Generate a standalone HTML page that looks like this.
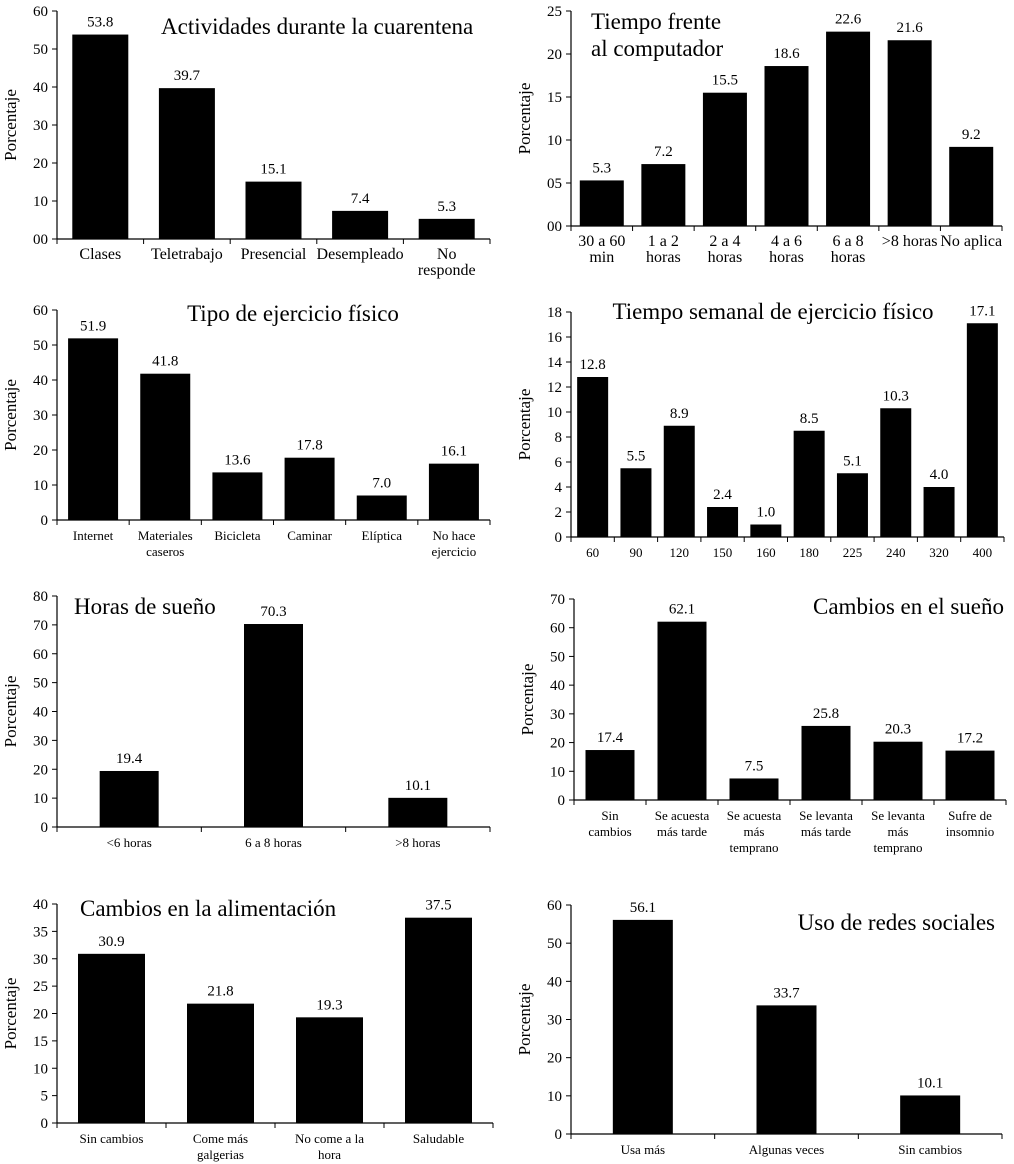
<!DOCTYPE html>
<html><head><meta charset="utf-8">
<style>
body{margin:0;background:#fff;}
svg{display:block;font-family:"Liberation Serif",serif;}
</style></head>
<body>
<svg id="c" width="1014" height="1164" viewBox="0 0 1014 1164"></svg>
<script>
// Panel 1
const p1Cats=["Clases","Teletrabajo","Presencial","Desempleado","No\nresponde"];
const p1Vals=[53.8,39.7,15.1,7.4,5.3];
const p1Ticks=["00","10","20","30","40","50","60"];
// Panel 2
const p2Cats=["30 a 60\nmin","1 a 2\nhoras","2 a 4\nhoras","4 a 6\nhoras","6 a 8\nhoras",">8 horas","No aplica"];
const p2Vals=[5.3,7.2,15.5,18.6,22.6,21.6,9.2];
const p2Ticks=["00","05","10","15","20","25"];
// Panel 3
const p3Cats=["Internet","Materiales\ncaseros","Bicicleta","Caminar","Elíptica","No hace\nejercicio"];
const p3Vals=[51.9,41.8,13.6,17.8,7.0,16.1];
const p3Ticks=["0","10","20","30","40","50","60"];
// Panel 4
const p4Cats=["60","90","120","150","160","180","225","240","320","400"];
const p4Vals=[12.8,5.5,8.9,2.4,1.0,8.5,5.1,10.3,4.0,17.1];
const p4Ticks=["0","2","4","6","8","10","12","14","16","18"];
// Panel 5
const p5Cats=["<6 horas","6 a 8 horas",">8 horas"];
const p5Vals=[19.4,70.3,10.1];
const p5Ticks=["0","10","20","30","40","50","60","70","80"];
// Panel 6
const p6Cats=["Sin\ncambios","Se acuesta\nmás tarde","Se acuesta\nmás\ntemprano","Se levanta\nmás tarde","Se levanta\nmás\ntemprano","Sufre de\ninsomnio"];
const p6Vals=[17.4,62.1,7.5,25.8,20.3,17.2];
const p6Ticks=["0","10","20","30","40","50","60","70"];
// Panel 7
const p7Cats=["Sin cambios","Come más\ngalgerias","No come a la\nhora","Saludable"];
const p7Vals=[30.9,21.8,19.3,37.5];
const p7Ticks=["0","5","10","15","20","25","30","35","40"];
// Panel 8
const p8Cats=["Usa más","Algunas veces","Sin cambios"];
const p8Vals=[56.1,33.7,10.1];
const p8Ticks=["0","10","20","30","40","50","60"];

const NS="http://www.w3.org/2000/svg";
const svg=document.getElementById('c');
function mk(tag,attrs,parent){const e=document.createElementNS(NS,tag);for(const k in attrs)e.setAttribute(k,attrs[k]);(parent||svg).appendChild(e);return e;}

function panel(id,o,cats,vals,ticks){
  const g=mk('g',{});
  
  
  const tmax=o.tmax, n=cats.length;
  const y=v=>o.y0-(v/tmax)*(o.y0-o.ytop);
  const cw=(o.x1-o.x0)/n;
  const xc=i=>o.x0+cw*(i+0.5);
  const ya=mk('line',{x1:o.x0,y1:o.ytop,x2:o.x0,y2:o.y0,stroke:'#000','stroke-width':1.2},g);
  
  
  const xa=mk('line',{x1:o.x0,y1:o.y0,x2:o.x1,y2:o.y0,stroke:'#000','stroke-width':1.2},g);
  
  
  ticks.forEach((t,i)=>{
    const v=tmax*i/(ticks.length-1), yy=y(v);
    mk('line',{x1:o.x0-5,y1:yy,x2:o.x0,y2:yy,stroke:'#000','stroke-width':1},g);
    const tx=mk('text',{x:o.x0-9,y:yy+5,'text-anchor':'end','font-size':15},g);
    tx.textContent=t;
    
    
  });
  for(let i=0;i<=n;i++){const xx=o.x0+cw*i;mk('line',{x1:xx,y1:o.y0,x2:xx,y2:o.y0+5,stroke:'#000','stroke-width':1},g);}
  const yt=mk('text',{x:0,y:0,transform:`translate(${o.x0-41},${(o.ytop+o.y0)/2}) rotate(-90)`,'text-anchor':'middle','font-size':17},g);
  yt.textContent='Porcentaje';
  
  
  cats.forEach((c,i)=>{
    const b=mk('rect',{x:xc(i)-o.bw/2,y:y(vals[i]),width:o.bw,height:o.y0-y(vals[i]),fill:'#000'},g);
    
    
    const vl=mk('text',{x:xc(i),y:y(vals[i])-8,'text-anchor':'middle','font-size':15},g);
    vl.textContent=vals[i].toFixed(1);
    
    
    c.split('\n').forEach((ln,j)=>{
      const cl=mk('text',{x:xc(i),y:o.y0+20+j*16,'text-anchor':'middle','font-size':o.cfs||15},g);
      cl.textContent=ln;
      
      
    });
  });
  o.title.forEach((ln,j)=>{
    const t=mk('text',{x:o.tx,y:o.ty+j*27,'text-anchor':o.ta||'start','font-size':23},g);
    t.textContent=ln;
    
    
  });
}
panel('actividades',{x0:57,x1:490,ytop:11,y0:239,tmax:60,bw:56,cfs:16,title:["Actividades durante la cuarentena"],tx:161,ty:34},p1Cats,p1Vals,p1Ticks);
panel('tiempo-computador',{x0:571,x1:1002,ytop:11,y0:226,tmax:25,bw:44,cfs:16,title:["Tiempo frente","al computador"],tx:591,ty:29},p2Cats,p2Vals,p2Ticks);
panel('tipo-ejercicio',{x0:57,x1:490,ytop:310,y0:520,tmax:60,bw:50,cfs:13,title:["Tipo de ejercicio físico"],tx:293,ty:321,ta:'middle'},p3Cats,p3Vals,p3Ticks);
panel('tiempo-ejercicio',{x0:571,x1:1004,ytop:312,y0:537,tmax:18,bw:31,cfs:13,title:["Tiempo semanal de ejercicio físico"],tx:773,ty:319,ta:'middle'},p4Cats,p4Vals,p4Ticks);
panel('horas-sueno',{x0:57,x1:490,ytop:596,y0:827,tmax:80,bw:59,cfs:13,title:["Horas de sueño"],tx:74,ty:614},p5Cats,p5Vals,p5Ticks);
panel('cambios-sueno',{x0:574,x1:1006,ytop:599,y0:800,tmax:70,bw:49,cfs:13,title:["Cambios en el sueño"],tx:1004,ty:614,ta:'end'},p6Cats,p6Vals,p6Ticks);
panel('alimentacion',{x0:57,x1:493,ytop:904,y0:1123,tmax:40,bw:67,cfs:13,title:["Cambios en la alimentación"],tx:80,ty:916},p7Cats,p7Vals,p7Ticks);
panel('redes-sociales',{x0:571,x1:1002,ytop:905,y0:1134,tmax:60,bw:60,cfs:13,title:["Uso de redes sociales"],tx:995,ty:930,ta:'end'},p8Cats,p8Vals,p8Ticks);
</script>
</body></html>
